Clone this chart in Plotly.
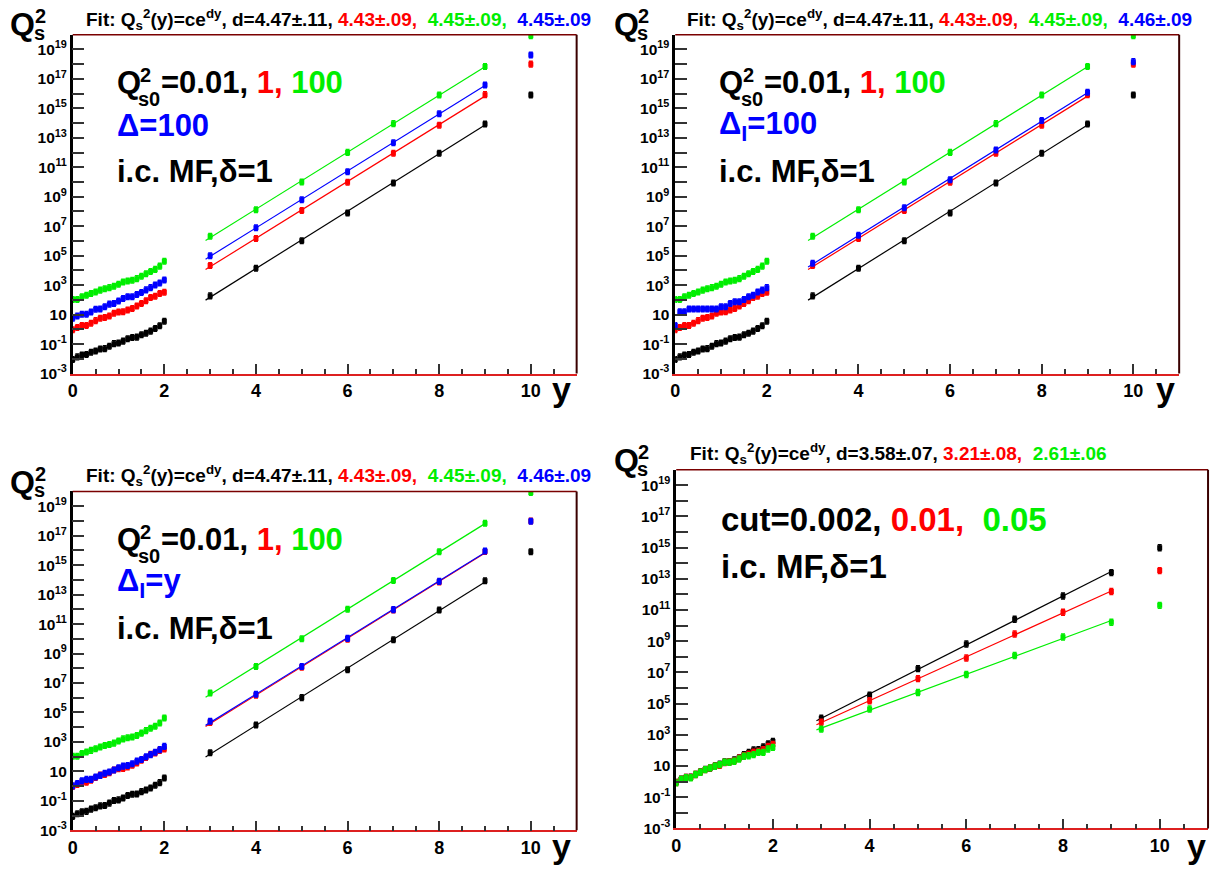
import numpy as np
import plotly.graph_objects as go

W, H = 1218, 879

# ---------------- data (log10 of Q_s^2) ----------------
y_small = [0.0, 0.1, 0.2, 0.3, 0.4, 0.5, 0.6, 0.7, 0.8, 0.9, 1.0,
           1.1, 1.2, 1.3, 1.4, 1.5, 1.6, 1.7, 1.8, 1.9, 2.0]
y_large = [3, 4, 5, 6, 7, 8, 9, 10]

# Q_s0^2 = 0.01 (black), 1 (red), 100 (green), shared by the three upper/left panels
black_small = [-2.05, -1.87, -1.74, -1.71, -1.56, -1.47, -1.34, -1.31, -1.15, -0.97, -0.93,
               -0.80, -0.64, -0.55, -0.53, -0.37, -0.26, -0.12, 0.06, 0.24, 0.55]
red_small = [-0.03, 0.12, 0.26, 0.26, 0.41, 0.59, 0.75, 0.80, 0.91, 1.09, 1.18,
             1.20, 1.31, 1.42, 1.58, 1.76, 1.94, 2.16, 2.25, 2.43, 2.52]
green_small = [2.03, 2.03, 2.21, 2.32, 2.43, 2.54, 2.66, 2.76, 2.83, 2.92, 3.06,
               3.21, 3.28, 3.33, 3.44, 3.60, 3.77, 3.93, 4.07, 4.29, 4.62]
black_large = [2.27, 4.15, 6.01, 7.90, 9.93, 11.95, 13.94, 15.91]
red_large = [4.33, 6.17, 8.07, 9.98, 11.95, 13.85, 15.93, 18.00]
green_large = [6.32, 8.12, 10.00, 12.01, 13.96, 15.91, 17.84, 19.93]

# blue series: Delta=100 / Delta_I=100 / Delta_I=y
blue1_small = [0.75, 0.91, 1.02, 1.02, 1.18, 1.36, 1.38, 1.53, 1.71, 1.76, 1.92,
               2.09, 2.21, 2.21, 2.36, 2.50, 2.68, 2.83, 3.01, 3.15, 3.35]
blue1_large = [5.00, 6.90, 8.79, 10.69, 12.67, 14.63, 16.58, 18.62]
blue2_small = [0.26, 1.20, 1.20, 1.38, 1.38, 1.38, 1.38, 1.38, 1.38, 1.38, 1.53,
               1.53, 1.76, 1.87, 1.87, 2.03, 2.21, 2.32, 2.54, 2.66, 2.83]
blue2_large = [4.49, 6.39, 8.25, 10.15, 12.17, 14.18, 16.09, 18.17]
blue3_small = [0.02, 0.18, 0.36, 0.46, 0.46, 0.62, 0.73, 0.87, 0.96, 1.09, 1.25,
               1.36, 1.40, 1.52, 1.70, 1.81, 1.99, 2.14, 2.30, 2.48, 2.70]
blue3_large = [4.40, 6.24, 8.12, 10.03, 11.98, 13.90, 15.96, 17.98]

# cut = 0.002 (black), 0.01 (red), 0.05 (green)
cut_black_small = [-0.05, 0.15, 0.27, 0.28, 0.46, 0.62, 0.78, 0.86, 1.00, 1.12, 1.26,
                   1.27, 1.38, 1.52, 1.73, 1.87, 2.03, 2.05, 2.22, 2.42, 2.58]
cut_red_small = [-0.06, 0.14, 0.26, 0.27, 0.45, 0.61, 0.77, 0.88, 0.99, 1.05, 1.22,
                 1.26, 1.33, 1.50, 1.66, 1.75, 1.88, 1.93, 2.05, 2.25, 2.38]
cut_green_small = [-0.08, 0.14, 0.25, 0.25, 0.45, 0.60, 0.77, 0.88, 0.98, 1.09, 1.24,
                   1.24, 1.30, 1.45, 1.62, 1.66, 1.73, 1.87, 1.87, 2.09, 2.19]
cut_black_large = [4.06, 5.54, 7.24, 8.82, 10.41, 11.90, 13.40, 14.99]
cut_red_large = [3.80, 5.18, 6.60, 7.92, 9.46, 10.86, 12.19, 13.53]
cut_green_large = [3.36, 4.65, 5.71, 6.87, 8.08, 9.27, 10.22, 11.30]

y_ticks_exp = list(range(-3, 20))
x_ticks = [0, 2, 4, 6, 8, 10]

BLACK, RED, GREEN, BLUE = "#000000", "#ff0000", "#00ee00", "#0000ff"
FONT = "Liberation Sans"

panels = [
    dict(dom=(68, 574, 35, 377),
         series=[(black_small, black_large, BLACK), (red_small, red_large, RED),
                 (green_small, green_large, GREEN), (blue1_small, blue1_large, BLUE)]),
    dict(dom=(673, 1179, 35, 377),
         series=[(black_small, black_large, BLACK), (red_small, red_large, RED),
                 (green_small, green_large, GREEN), (blue2_small, blue2_large, BLUE)]),
    dict(dom=(68, 574, 496, 838),
         series=[(black_small, black_large, BLACK), (red_small, red_large, RED),
                 (green_small, green_large, GREEN), (blue3_small, blue3_large, BLUE)]),
    dict(dom=(674, 1208, 474, 836),
         series=[(cut_black_small, cut_black_large, BLACK), (cut_red_small, cut_red_large, RED),
                 (cut_green_small, cut_green_large, GREEN)]),
]


def fx(p):
    return p / W


def fy(p):
    return 1 - p / H


fig = go.Figure()
layout = dict(width=W, height=H, margin=dict(l=0, r=0, t=0, b=0),
              paper_bgcolor="white", plot_bgcolor="white", showlegend=False)
shapes = []
annotations = []

ytickvals = [10.0 ** k for k in y_ticks_exp]
yticktext = [("10" if k == 1 else "10<sup>%d</sup>" % k) if k % 2 != 0 else "" for k in y_ticks_exp]

for i, p in enumerate(panels, start=1):
    xa = "x" if i == 1 else "x%d" % i
    ya = "y" if i == 1 else "y%d" % i
    x0, x1, t, b = p["dom"]
    layout["xaxis" if i == 1 else "xaxis%d" % i] = dict(
        domain=[fx(x0), fx(x1)], anchor=ya, range=[0, 11],
        tickmode="array", tickvals=x_ticks, ticktext=[str(v) for v in x_ticks],
        ticks="inside", ticklen=10, tickwidth=1.5, tickcolor="#333333",
        minor=dict(tickmode="linear", tick0=0, dtick=0.5, ticks="inside", ticklen=5,
                   tickwidth=1.5, tickcolor="#333333", showgrid=False),
        showline=True, linecolor="#dd2020", linewidth=1.5, mirror=False,
        showgrid=False, zeroline=False,
        tickfont=dict(family=FONT, size=18, color="black", weight="bold"))
    layout["yaxis" if i == 1 else "yaxis%d" % i] = dict(
        domain=[fy(b), fy(t)], anchor=xa, type="log", range=[-3, 20],
        tickmode="array", tickvals=ytickvals, ticktext=yticktext,
        ticks="inside", ticklen=12, tickwidth=1.5, tickcolor="#333333",
        showline=True, linecolor="black", linewidth=2.5, mirror=False,
        showgrid=False, zeroline=False,
        tickfont=dict(family=FONT, size=15.5, color="black", weight="bold"))
    # top and right frame lines
    shapes.append(dict(type="line", xref="paper", yref="paper", x0=fx(x0), x1=fx(x1),
                       y0=fy(t), y1=fy(t), line=dict(color="#7a0000", width=1.5)))
    shapes.append(dict(type="line", xref="paper", yref="paper", x0=fx(x1), x1=fx(x1),
                       y0=fy(t), y1=fy(b), line=dict(color="#3a0000", width=2)))

    for small, large, col in p["series"]:
        ys = 10.0 ** np.array(small)
        yl = 10.0 ** np.array(large)
        for xs, yv in ((y_small, ys), (y_large, yl)):
            fig.add_trace(go.Scatter(
                x=xs, y=yv, mode="markers", xaxis=xa, yaxis=ya,
                marker=dict(symbol="square", size=5, color=col, line=dict(width=0)),
                error_y=dict(type="data", symmetric=False, array=yv * 0.55,
                             arrayminus=yv * 0.35, thickness=1.5, width=2, color=col)))
        # exponential fit over y = 3..9
        c = np.polyfit(y_large[:7], large[:7], 1)
        xf = np.array([2.9, 9.0])
        fig.add_trace(go.Scatter(x=xf, y=10.0 ** np.polyval(c, xf), mode="lines",
                                 xaxis=xa, yaxis=ya, line=dict(color=col, width=1.2)))


def ann(text, x, y, size, color="black", xanchor="left", yanchor="middle"):
    annotations.append(dict(text=text, x=fx(x), y=fy(y), xref="paper", yref="paper",
                            xanchor=xanchor, yanchor=yanchor, showarrow=False,
                            font=dict(family=FONT, size=size, color=color, weight="bold")))


def span(t, c):
    return '<span style="color:%s">%s</span>' % (c, t)


def qs_label(x, y):
    ann("Q", x, y, 32)
    ann("2", x + 25, y - 8, 20)
    ann("s", x + 24, y + 9, 20)


fit = "Fit: Q<sub>s</sub><sup>2</sup>(y)=ce<sup>dy</sup>, d="
titles = [
    (fit + "4.47±.11, " + span("4.43±.09, ", RED) + " " + span("4.45±.09, ", GREEN) + " "
     + span("4.45±.09", BLUE), 79, 20),
    (fit + "4.47±.11, " + span("4.43±.09, ", RED) + " " + span("4.45±.09, ", GREEN) + " "
     + span("4.46±.09", BLUE), 683, 20),
    (fit + "4.47±.11, " + span("4.43±.09, ", RED) + " " + span("4.45±.09, ", GREEN) + " "
     + span("4.46±.09", BLUE), 79, 480),
    (fit + "3.58±.07, " + span("3.21±.08, ", RED) + " " + span("2.61±.06", GREEN), 686, 458),
]
for txt, x, y in titles:
    ann(txt, x, y, 19)

qs_label(3, 24)
qs_label(609, 24)
qs_label(3, 486)
qs_label(609, 464)

for x, y in ((559, 393), (1165, 393), (559, 854), (1196, 854)):
    ann("y", x, y, 34, xanchor="center")


def qs0_block(x, y):
    ann("Q", x, y, 31)
    ann("2", x + 24, y - 7, 20)
    ann("s0", x + 22, y + 17, 20)
    ann("=0.01, " + span("1, ", RED) + span("100", GREEN), x + 45, y, 31)


qs0_block(110, 83)
ann("Δ=100", 110, 127, 31, BLUE)
ann("i.c. MF,δ=1", 110, 173, 31)

qs0_block(715, 83)
ann("Δ<sub>I</sub>=100", 715, 127, 31, BLUE)
ann("i.c. MF,δ=1", 715, 173, 31)

qs0_block(110, 544)
ann("Δ<sub>I</sub>=y", 110, 588, 31, BLUE)
ann("i.c. MF,δ=1", 110, 634, 31)

ann("cut=0.002, " + span("0.01, ", RED) + " " + span("0.05", GREEN), 717, 524, 33)
ann("i.c. MF,δ=1", 717, 572, 33)

layout["shapes"] = shapes
layout["annotations"] = annotations
fig.update_layout(**layout)
fig.write_html("out.html")
